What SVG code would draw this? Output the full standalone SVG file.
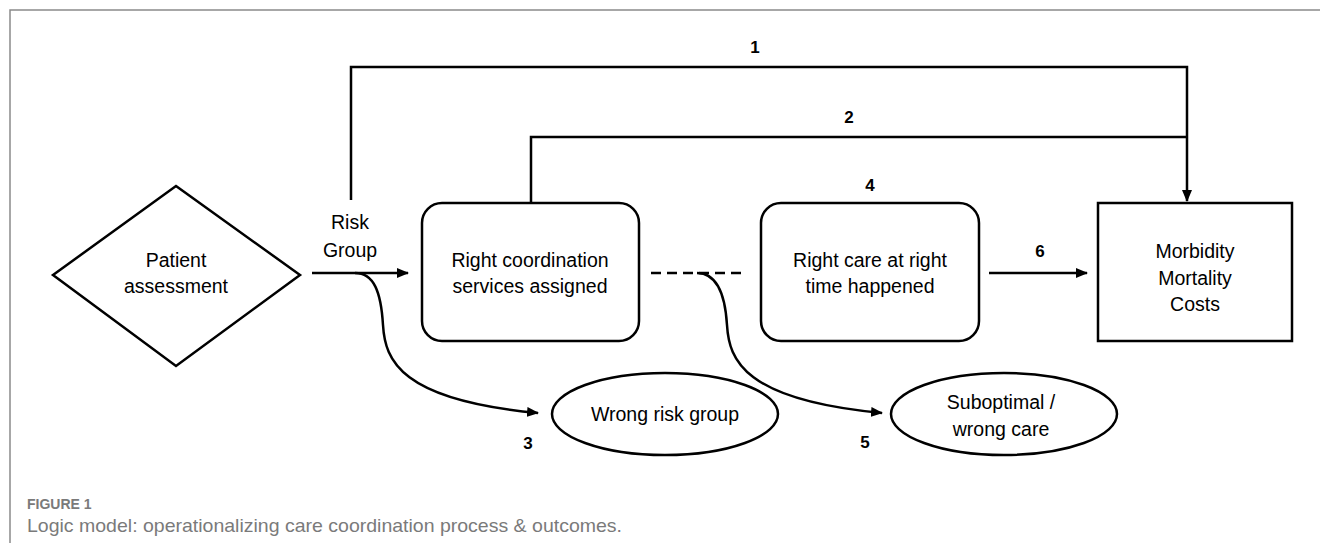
<svg xmlns="http://www.w3.org/2000/svg" width="1320" height="543" viewBox="0 0 1320 543">
<style>
.n{fill:#fff;stroke:#000;stroke-width:2.5}
.t{font-family:"Liberation Sans",Arial,sans-serif;font-size:19.5px;fill:#000;text-anchor:middle}
.num{font-family:"Liberation Sans",Arial,sans-serif;font-size:17px;font-weight:bold;fill:#000;text-anchor:middle}
.c{fill:none;stroke:#000;stroke-width:2.5}
.cap{font-family:"Liberation Sans",Arial,sans-serif;fill:#7a7a7a}
</style>
<defs>
<marker id="ah" markerWidth="12" markerHeight="10" refX="11" refY="5" orient="auto" markerUnits="userSpaceOnUse">
<path d="M0,0 L12,5 L0,10 Z" fill="#000"/>
</marker>
</defs>
<rect width="1320" height="543" fill="#fff"/>
<path d="M10,543 V10 H1320" fill="none" stroke="#8a8a8a" stroke-width="1.5"/>

<g id="connectors">
<path class="c" d="M351,200 V67 H1187 V201" marker-end="url(#ah)"/>
<path class="c" d="M531,203 V137 H1187"/>
<path class="c" d="M312,273 H408" marker-end="url(#ah)"/>
<path class="c" d="M355,273 C374,273 381,292 383,325 C385,360 400,400 538,413" marker-end="url(#ah)"/>
<path class="c" d="M651,273 H745" stroke-dasharray="10 6"/>
<path class="c" d="M697,273 C716,273 725,292 727,325 C729,360 744,400 882,413" marker-end="url(#ah)"/>
<path class="c" d="M989,273 H1087" marker-end="url(#ah)"/>
<text class="num" x="755" y="53">1</text>
<text class="num" x="849" y="123">2</text>
<text class="num" x="528" y="449">3</text>
<text class="num" x="870" y="191">4</text>
<text class="num" x="865" y="448">5</text>
<text class="num" x="1040" y="257">6</text>
<text class="t" x="350" y="229">Risk</text>
<text class="t" x="350" y="257">Group</text>
</g>

<g id="patient-assessment">
<polygon class="n" points="176,186 300,275 176,366 53,275" stroke-width="2"/>
<text class="t" x="176" y="267">Patient</text>
<text class="t" x="176" y="293">assessment</text>
</g>

<g id="right-coordination">
<rect class="n" x="422" y="203" width="217" height="138" rx="20"/>
<text class="t" x="530" y="267">Right coordination</text>
<text class="t" x="530" y="293">services assigned</text>
</g>

<g id="right-care">
<rect class="n" x="761" y="203" width="218" height="138" rx="20"/>
<text class="t" x="870" y="267">Right care at right</text>
<text class="t" x="870" y="293">time happened</text>
</g>

<g id="outcomes">
<rect class="n" x="1098" y="203" width="194" height="138"/>
<text class="t" x="1195" y="258">Morbidity</text>
<text class="t" x="1195" y="285">Mortality</text>
<text class="t" x="1195" y="311">Costs</text>
</g>

<g id="wrong-risk-group">
<ellipse class="n" cx="665" cy="414" rx="113" ry="41"/>
<text class="t" x="665" y="421">Wrong risk group</text>
</g>

<g id="suboptimal-care">
<ellipse class="n" cx="1004" cy="414" rx="113" ry="41"/>
<text class="t" x="1001" y="409">Suboptimal /</text>
<text class="t" x="1001" y="436">wrong care</text>
</g>

<g id="caption">
<text class="cap" x="27" y="509" font-size="14" font-weight="bold">FIGURE 1</text>
<text class="cap" x="27" y="532" font-size="18.5" textLength="595" lengthAdjust="spacingAndGlyphs">Logic model: operationalizing care coordination process &amp; outcomes.</text>
</g>
</svg>
